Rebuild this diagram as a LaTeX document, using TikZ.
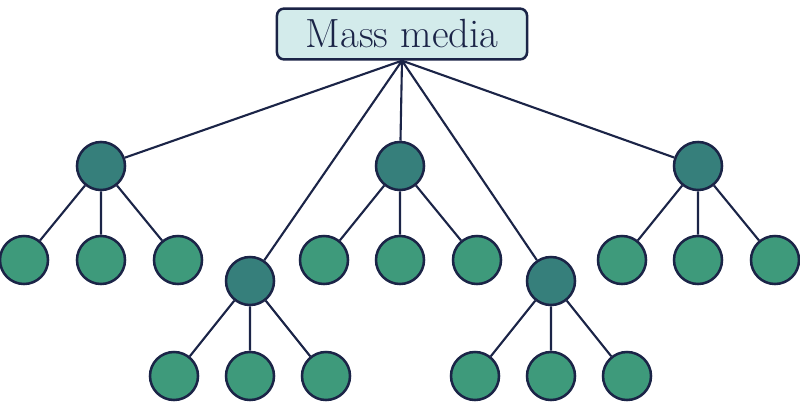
\documentclass[tikz,border=0pt]{standalone}
\usetikzlibrary{shapes,arrows}

\definecolor{edgeblue}{HTML}{1B2447}
\definecolor{rootfill}{HTML}{D3EBEB}
\definecolor{hubfill}{HTML}{367F7B}
\definecolor{leaffill}{HTML}{3E9A7B}

\tikzset{
  rootbox/.style={draw=edgeblue,line width=1.8pt,fill=rootfill,rounded corners=5pt,
                  minimum width=6.25cm,minimum height=1.27cm,inner sep=0pt,
                  text=edgeblue,font=\fontsize{29}{34}\selectfont},
  hub/.style={circle,draw=edgeblue,line width=1.8pt,fill=hubfill,minimum size=1.2cm,inner sep=0pt},
  leaf/.style={circle,draw=edgeblue,line width=1.8pt,fill=leaffill,minimum size=1.2cm,inner sep=0pt},
  link/.style={draw=edgeblue,line width=1.5pt}
}

\begin{document}
\begin{tikzpicture}[x=0.025cm,y=-0.025cm]
  \useasboundingbox (0,0) rectangle (800,401);

% root
  \node[rootbox] (root) at (402,34) {Mass media};

% hubs
  \node[hub] (h1) at (101,166) {};
  \node[hub] (h2) at (250,281) {};
  \node[hub] (h3) at (400,166) {};
  \node[hub] (h4) at (551,281) {};
  \node[hub] (h5) at (698,166) {};

% leaves, upper row
  \node[leaf] (l11) at (24,260) {};
  \node[leaf] (l12) at (101,260) {};
  \node[leaf] (l13) at (178,260) {};
  \node[leaf] (l31) at (324,260) {};
  \node[leaf] (l32) at (400,260) {};
  \node[leaf] (l33) at (477,260) {};
  \node[leaf] (l51) at (622,260) {};
  \node[leaf] (l52) at (698,260) {};
  \node[leaf] (l53) at (775,260) {};

% leaves, lower row
  \node[leaf] (l21) at (174,376) {};
  \node[leaf] (l22) at (250,376) {};
  \node[leaf] (l23) at (326,376) {};
  \node[leaf] (l41) at (475,376) {};
  \node[leaf] (l42) at (551,376) {};
  \node[leaf] (l43) at (627,376) {};

% connectors
  \path[link] (root.south) -- (h1) (root.south) -- (h2) (root.south) -- (h3)
              (root.south) -- (h4) (root.south) -- (h5);
  \path[link] (h1) -- (l11) (h1) -- (l12) (h1) -- (l13);
  \path[link] (h2) -- (l21) (h2) -- (l22) (h2) -- (l23);
  \path[link] (h3) -- (l31) (h3) -- (l32) (h3) -- (l33);
  \path[link] (h4) -- (l41) (h4) -- (l42) (h4) -- (l43);
  \path[link] (h5) -- (l51) (h5) -- (l52) (h5) -- (l53);

\end{tikzpicture}
\end{document}
